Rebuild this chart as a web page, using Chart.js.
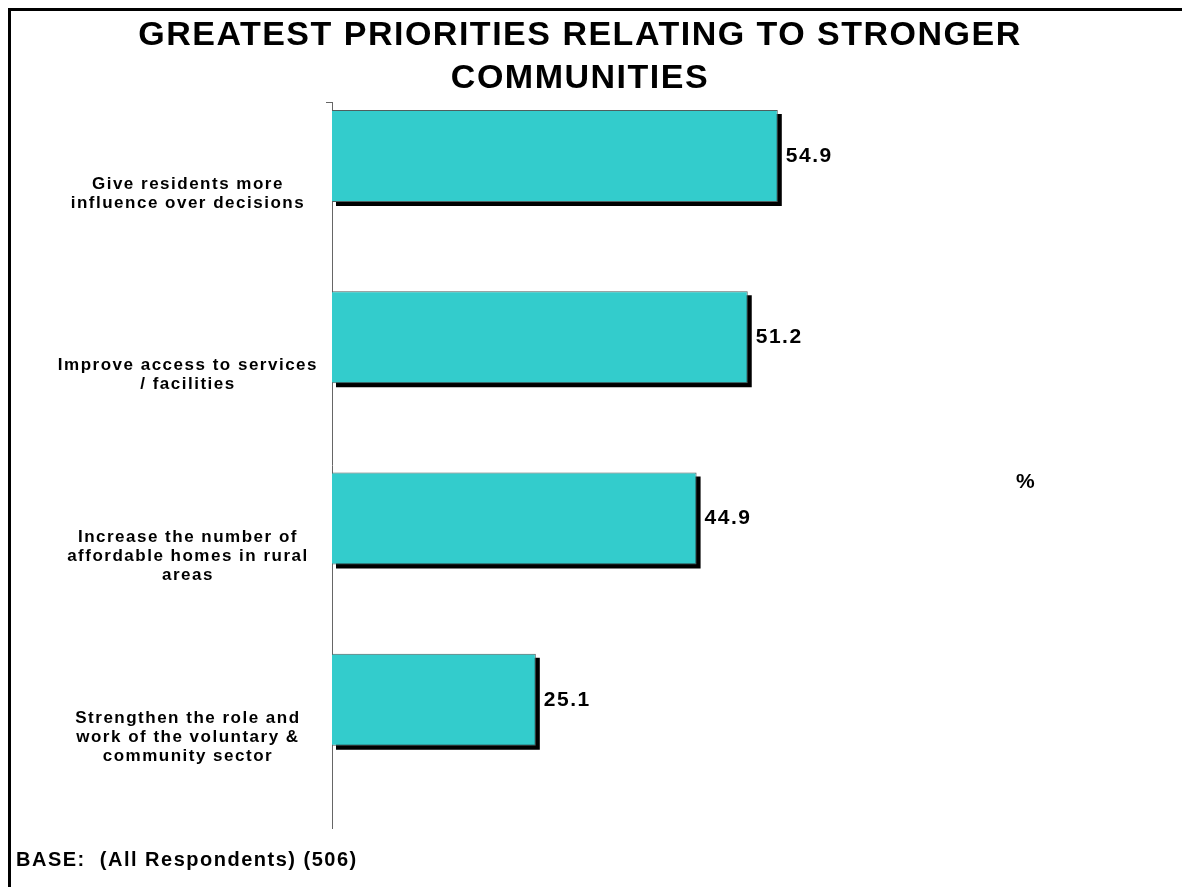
<!DOCTYPE html>
<html>
<head>
<meta charset="utf-8">
<script src="https://cdn.jsdelivr.net/npm/chart.js@4/dist/chart.umd.min.js"></script>
<style>
  html, body { margin: 0; padding: 0; background: #fff; }
</style>
</head>
<body>
<canvas id="grafico" width="1182" height="887"></canvas>
<script>
const categorias = [
  ['Give residents more', 'influence over decisions'],
  ['Improve access to services', '/ facilities'],
  ['Increase the number of', 'affordable homes in rural', 'areas'],
  ['Strengthen the role and', 'work of the voluntary &', 'community sector']
];
const valores = [54.9, 51.2, 44.9, 25.1];
const vazio = [null, null, null, null];

const titulo = ['GREATEST PRIORITIES RELATING TO STRONGER', 'COMMUNITIES'];
const base = 'BASE:  (All Respondents) (506)';

const FONTE = '"Liberation Sans", Arial, sans-serif';
const ESPACO = '1.5px';

// sombra preta, valores, moldura e o "%"
const extras = {
  id: 'extras',
  beforeLayout(chart) { chart.ctx.letterSpacing = ESPACO; },
  beforeDraw(chart) { chart.ctx.letterSpacing = ESPACO; },
  beforeDatasetsDraw(chart) {
    const ctx = chart.ctx;
    const meta = chart.getDatasetMeta(0);
    ctx.save();
    ctx.fillStyle = '#000';
    meta.data.forEach(bar => {
      const p = bar.getProps(['x', 'y', 'base', 'height'], true);
      ctx.fillRect(p.base + 4, p.y - p.height / 2 + 4, p.x - p.base, p.height);
    });
    ctx.restore();
  },
  afterDatasetsDraw(chart) {
    const ctx = chart.ctx;
    const meta = chart.getDatasetMeta(0);
    ctx.save();
    ctx.fillStyle = '#000';
    ctx.font = 'bold 21px ' + FONTE;
    ctx.textAlign = 'left';
    ctx.textBaseline = 'middle';
    meta.data.forEach((bar, i) => {
      const p = bar.getProps(['x', 'y'], true);
      ctx.fillText(valores[i].toFixed(1), p.x + 8, p.y);
    });
    ctx.restore();
  },
  afterDraw(chart) {
    const ctx = chart.ctx;
    ctx.save();
    ctx.fillStyle = '#000';
    ctx.fillRect(8, 8, chart.width - 8, 3);
    ctx.fillRect(8, 8, 3, chart.height - 8);
    ctx.font = 'bold 21px ' + FONTE;
    ctx.textAlign = 'center';
    ctx.textBaseline = 'middle';
    ctx.fillText('%', 1026, 482);
    ctx.restore();
  }
};

const ctx = document.getElementById('grafico').getContext('2d');

window.myChart = new Chart(ctx, {
  type: 'bar',
  data: {
    labels: categorias,
    datasets: [
      {
        data: valores,
        backgroundColor: '#33CCCC',
        borderColor: '#4f5f5f',
        borderWidth: 1,
        categoryPercentage: 0.83,
        barPercentage: 1.223
      },
      {
        data: vazio,
        backgroundColor: '#33CCCC',
        categoryPercentage: 0.83,
        barPercentage: 1.223
      }
    ]
  },
  options: {
    indexAxis: 'y',
    responsive: false,
    animation: false,
    layout: { padding: { left: 16, right: 38, top: 0, bottom: 0 } },
    scales: {
      x: { display: false, min: 0, max: 100 },
      y: {
        afterFit(scale) { scale.width = 332 - 16; },
        border: { display: true, color: '#666', width: 1 },
        grid: {
          drawOnChartArea: false,
          drawTicks: true,
          tickLength: 6,
          color: c => c.index === 0 ? '#666' : 'rgba(0,0,0,0)'
        },
        ticks: {
          color: '#000',
          crossAlign: 'center',
          padding: 8,
          font: { family: FONTE, size: 17, weight: 'bold', lineHeight: 1.12 }
        }
      }
    },
    plugins: {
      legend: { display: false },
      tooltip: { enabled: false },
      title: {
        display: true,
        text: titulo,
        color: '#000',
        font: { family: FONTE, size: 34, weight: 'bold', lineHeight: 1.26 },
        padding: { top: 14, bottom: 3.3 }
      },
      subtitle: {
        display: true,
        position: 'bottom',
        align: 'start',
        text: base,
        color: '#000',
        font: { family: FONTE, size: 20, weight: 'bold', lineHeight: 1.2 },
        padding: { top: 20, bottom: 15 }
      }
    }
  },
  plugins: [extras]
});
</script>
</body>
</html>
